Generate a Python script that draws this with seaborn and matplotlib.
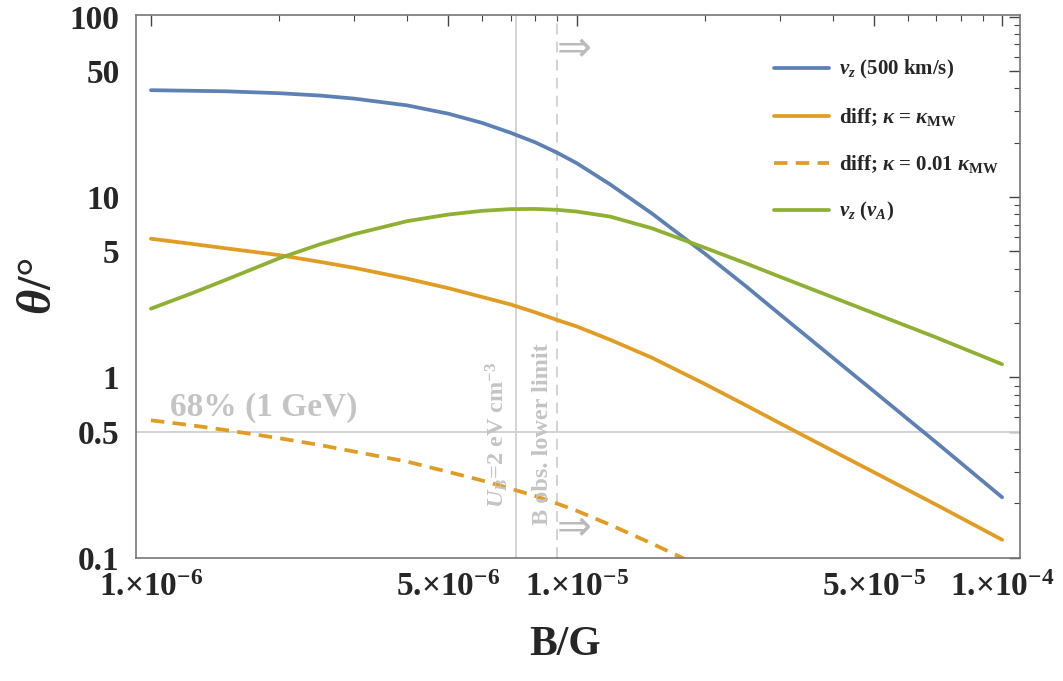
import numpy as np
import pandas as pd
import seaborn as sns
import matplotlib.pyplot as plt
from matplotlib.ticker import LogLocator, FixedLocator, FixedFormatter, NullFormatter

# field strength B in gauss
b_field = [1e-6, 1.25e-6, 1.5e-6, 2e-6, 2.5e-6, 3e-6, 4e-6, 5e-6, 6e-6, 7e-6, 8e-6, 9e-6,
           1e-5, 1.2e-5, 1.5e-5, 2e-5, 2.5e-5, 3e-5, 4e-5, 5e-5, 7e-5, 1e-4]
theta_vz500 = [39.06, 38.76, 38.51, 37.59, 36.46, 35.09, 32.17, 28.93, 25.73, 22.68, 20.07, 17.60,
               15.41, 11.73, 8.13, 4.86, 3.20, 2.243, 1.286, 0.836, 0.436, 0.2164]
theta_diff = [5.867, 5.490, 5.190, 4.760, 4.364, 4.048, 3.523, 3.120, 2.789, 2.535, 2.292, 2.080,
              1.917, 1.615, 1.288, 0.920, 0.700, 0.558, 0.3915, 0.2977, 0.1968, 0.1258]
theta_vA = [2.403, 2.928, 3.473, 4.568, 5.470, 6.215, 7.342, 7.99, 8.375, 8.560, 8.582, 8.483,
            8.301, 7.778, 6.715, 5.232, 4.286, 3.617, 2.779, 2.265, 1.664, 1.182]

b_field_low = [1e-6, 1.25e-6, 1.5e-6, 2e-6, 2.5e-6, 3e-6, 4e-6, 5e-6, 6e-6, 7e-6, 8e-6, 9e-6,
               1e-5, 1.2e-5, 1.5e-5, 1.8e-5]
theta_diff_low = [0.578, 0.5415, 0.51, 0.46, 0.421, 0.388, 0.341, 0.299, 0.268, 0.2416, 0.2199, 0.1997,
                  0.1823, 0.1522, 0.1202, 0.0981]

b_ub = 7.2e-6      # U_B = 2 eV cm^-3
b_obs = 9.0e-6     # B obs. lower limit
theta_68 = 0.5     # 68% (1 GeV)

xtick_vals = [1e-6, 5e-6, 1e-5, 5e-5, 1e-4]
xtick_labels = ['1.×10$^{-6}$', '5.×10$^{-6}$', '1.×10$^{-5}$', '5.×10$^{-5}$', '1.×10$^{-4}$']
ytick_vals = [0.1, 0.5, 1, 5, 10, 50, 100]
ytick_labels = ['0.1', '0.5', '1', '5', '10', '50', '100']

sns.set_style('white')
plt.rcParams['font.family'] = ['Liberation Serif', 'DejaVu Serif']
plt.rcParams['font.weight'] = 'bold'
plt.rcParams['mathtext.fontset'] = 'custom'
plt.rcParams['mathtext.rm'] = 'Liberation Serif:bold'
plt.rcParams['mathtext.bf'] = 'Liberation Serif:bold'
plt.rcParams['mathtext.it'] = 'Liberation Serif:bold:italic'

blue = '#5E81B5'
orange = '#E19C24'
green = '#8FB032'
grey = '#c4c4c4'

df = pd.DataFrame({'B': b_field, 'vz500': theta_vz500, 'diff': theta_diff, 'vA': theta_vA})
df_low = pd.DataFrame({'B': b_field_low, 'diff_low': theta_diff_low})

fig = plt.figure(figsize=(10.63, 6.81), dpi=100)
ax = fig.add_axes([0.128, 0.181, 0.8315, 0.797])

ax.axvline(b_ub, color='#d0d0d0', lw=1.3, zorder=1)
ax.axvline(b_obs, color='#d0d0d0', lw=1.3, ls=(0, (6, 4)), zorder=1)
ax.axhline(theta_68, color='#d0d0d0', lw=1.3, zorder=1)

lw = 2.7
sns.lineplot(data=df, x='B', y='vz500', color=blue, lw=lw, ax=ax,
             label=r'$v_z$ (500 km/s)')
sns.lineplot(data=df, x='B', y='diff', color=orange, lw=lw, ax=ax,
             label=r'diff; $\kappa$ = $\kappa_{\rm MW}$')
sns.lineplot(data=df_low, x='B', y='diff_low', color=orange, lw=lw, ax=ax,
             label=r'diff; $\kappa$ = 0.01 $\kappa_{\rm MW}$')
ax.lines[-1].set_dashes([3.6, 2.2])
sns.lineplot(data=df, x='B', y='vA', color=green, lw=lw, ax=ax,
             label=r'$v_z$ ($v_A$)')

ax.set_xscale('log')
ax.set_yscale('log')
ax.set_xlim(10 ** -6.035, 10 ** -3.958)
ax.set_ylim(0.1, 102)

ax.xaxis.set_major_locator(FixedLocator(xtick_vals))
ax.xaxis.set_major_formatter(FixedFormatter(xtick_labels))
ax.xaxis.set_minor_locator(LogLocator(base=10, subs=np.arange(2, 10)))
ax.xaxis.set_minor_formatter(NullFormatter())
ax.yaxis.set_major_locator(FixedLocator(ytick_vals))
ax.yaxis.set_major_formatter(FixedFormatter(ytick_labels))
ax.yaxis.set_minor_locator(LogLocator(base=10, subs=np.arange(2, 10)))
ax.yaxis.set_minor_formatter(NullFormatter())

ax.tick_params(which='both', direction='in', top=True, right=True, color='#444444')
ax.tick_params(which='major', length=8, width=1, labelsize=24, pad=10)
ax.tick_params(axis='y', which='major', pad=12)
ax.tick_params(which='minor', length=4.5, width=0.8)
for s in ax.spines.values():
    s.set_color('#777777')
    s.set_linewidth(1.2)

ax.set_xlabel('B/G', fontsize=30, fontweight='bold')
ax.xaxis.set_label_coords(0.485, -0.125)
ax.set_ylabel(r'$\theta$/°', fontsize=35, fontweight='bold')
ax.yaxis.set_label_coords(-0.085, 0.5)

ax.text(1.845e-6, 0.68, '68% (1 GeV)', color=grey, fontsize=24, fontweight='bold',
        ha='center', va='center')
ax.text(6.5e-6, 0.483, r'$U_B$=2 eV cm$^{-3}$', color=grey, fontsize=17.5,
        rotation=90, ha='center', va='center')
ax.text(8.3e-6, 0.483, 'B obs. lower limit', color=grey, fontsize=17.5,
        rotation=90, ha='center', va='center')
ax.text(b_obs * 1.0, 66, '⇒', color='#bbbbbb', fontsize=30, family='DejaVu Sans',
        ha='left', va='center', fontweight='normal')
ax.text(b_obs * 1.0, 0.146, '⇒', color='#bbbbbb', fontsize=30, family='DejaVu Sans',
        ha='left', va='center', fontweight='normal')

ax.legend(loc='upper left', bbox_to_anchor=(764 / 1063, 1 - 48 / 681),
          bbox_transform=fig.transFigure, frameon=False, fontsize=15,
          handlelength=2.6, handletextpad=0.5, labelspacing=1.2, borderpad=0)

fig.savefig('out.png', dpi=100)
